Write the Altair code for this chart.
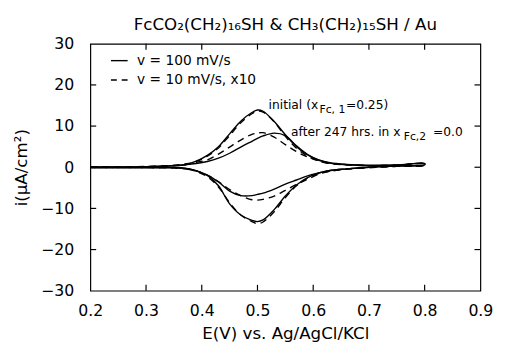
import altair as alt
import pandas as pd

# ---------------- data ----------------
E_GRID = [0.20, 0.25, 0.30, 0.35, 0.37, 0.39, 0.41, 0.43, 0.45, 0.47, 0.49, 0.50,
          0.51, 0.53, 0.55, 0.57, 0.59, 0.61, 0.63, 0.66, 0.70, 0.75, 0.80]

# anodic (forward) and cathodic (reverse) branches, values listed at ascending E
INIT_100_OX = [0.1, 0.1, 0.15, 0.35, 0.6, 1.5, 2.9, 5.0, 8.1, 11.2, 13.3, 13.9,
               13.6, 11.1, 7.9, 5.0, 3.0, 1.7, 1.0, 0.6, 0.4, 0.5, 0.9]
INIT_100_RED = [-0.1, -0.1, -0.1, -0.1, -0.2, -0.8, -2.0, -4.5, -8.9, -11.6, -12.9, -13.2,
                -12.8, -10.3, -7.0, -4.3, -2.5, -1.4, -0.8, -0.4, 0.0, 0.3, 0.6]
AFTER_100_OX = [0.1, 0.1, 0.15, 0.4, 0.6, 0.9, 1.4, 2.2, 3.4, 4.9, 6.3, 7.0,
                7.6, 8.3, 7.7, 5.2, 3.1, 1.8, 1.1, 0.7, 0.5, 0.55, 0.9]
AFTER_100_RED = [-0.1, -0.1, -0.1, -0.1, -0.3, -0.9, -1.9, -3.6, -5.8, -6.9, -6.9, -6.6,
                 -6.3, -5.3, -4.1, -3.1, -2.1, -1.4, -0.8, -0.4, 0.0, 0.3, 0.6]
INIT_10_OX = [0.1, 0.1, 0.15, 0.35, 0.6, 1.4, 2.7, 4.7, 7.7, 10.8, 13.0, 13.6,
              13.4, 11.0, 7.5, 4.6, 2.7, 1.5, 0.9, 0.6, 0.4, 0.5, 0.8]
INIT_10_RED = [-0.1, -0.1, -0.1, -0.1, -0.3, -1.0, -2.3, -4.8, -8.6, -11.6, -13.2, -13.7,
               -13.3, -10.8, -7.4, -4.5, -2.6, -1.5, -0.9, -0.4, -0.1, 0.2, 0.5]
AFTER_10_OX = [0.1, 0.1, 0.2, 0.5, 0.8, 1.2, 1.8, 3.2, 4.9, 6.6, 8.0, 8.3,
               8.4, 7.3, 5.5, 3.8, 2.5, 1.6, 0.9, 0.6, 0.4, 0.5, 0.8]
AFTER_10_RED = [-0.1, -0.1, -0.1, -0.2, -0.4, -0.9, -1.9, -3.5, -5.4, -6.9, -7.9, -8.0,
                -7.8, -7.0, -5.6, -4.2, -2.9, -1.7, -1.0, -0.5, -0.1, 0.2, 0.5]

RATE_LABELS = ["v = 100 mV/s", "v = 10 mV/s, x10"]
CURVE_NAMES = ["initial 100", "after 100", "initial 10", "after 10"]
CURVE_RATES = [RATE_LABELS[0], RATE_LABELS[0], RATE_LABELS[1], RATE_LABELS[1]]
CURVE_OX = [INIT_100_OX, AFTER_100_OX, INIT_10_OX, AFTER_10_OX]
CURVE_RED = [INIT_100_RED, AFTER_100_RED, INIT_10_RED, AFTER_10_RED]

X_DOMAIN = [0.2, 0.9]
Y_DOMAIN = [-30, 30]
X_TICKS = [0.3, 0.4, 0.5, 0.6, 0.7, 0.8]
Y_TICKS = [-20, -10, 0, 10, 20]
X_LABELS = [0.2, 0.3, 0.4, 0.5, 0.6, 0.7, 0.8, 0.9]
Y_LABELS = [-30, -20, -10, 0, 10, 20, 30]

# legend rows (anchored in data units, top-left inside the frame)
LEG_E_SAMPLE = [0.237, 0.267]
LEG_E_TEXT = 0.284
LEG_I = [25.9, 21.2]

ANNOT_TEXT = ["initial (x", "Fc, 1", "=0.25)", "after 247 hrs. in x", "Fc,2", "=0.0"]
ANNOT_E = [0.5199, 0.6113, 0.6587, 0.5603, 0.7624, 0.8151]
ANNOT_I = [14.2, 13.1, 14.2, 7.7, 6.7, 7.7]
ANNOT_SUB = [False, True, False, False, True, False]

TITLE = "FcCO\u2082(CH\u2082)\u2081\u2086SH & CH\u2083(CH\u2082)\u2081\u2085SH / Au"
FONT = "DejaVu Sans"

W, H = 398, 252
TL = 6
DASH = [7, 5]

# ---------------- tables ----------------
rows = []
for name, rate, ox, red in zip(CURVE_NAMES, CURVE_RATES, CURVE_OX, CURVE_RED):
    k = 0
    for e, i in zip(E_GRID, ox):
        rows.append({"curve": name, "rate": rate, "E": e, "I": i, "k": k})
        k += 1
    for e, i in zip(reversed(E_GRID), list(reversed(red))):
        rows.append({"curve": name, "rate": rate, "E": e, "I": i, "k": k})
        k += 1
df = pd.DataFrame(rows)
df_solid = df[df["rate"] == RATE_LABELS[0]].reset_index(drop=True)
df_dash = df[df["rate"] == RATE_LABELS[1]].reset_index(drop=True)

leg_rows = []
for lab, yv in zip(RATE_LABELS, LEG_I):
    for k, e in enumerate(LEG_E_SAMPLE):
        leg_rows.append({"rate": lab, "E": e, "I": yv, "k": k})
leg_lines = pd.DataFrame(leg_rows)
leg_text = pd.DataFrame({"text": RATE_LABELS, "E": [LEG_E_TEXT, LEG_E_TEXT], "I": LEG_I})

xt = pd.DataFrame({"E": X_TICKS})
yt = pd.DataFrame({"I": Y_TICKS})
ann = pd.DataFrame({"text": ANNOT_TEXT, "E": ANNOT_E, "I": ANNOT_I, "sub": ANNOT_SUB})

xscale = alt.Scale(domain=X_DOMAIN, nice=False, zero=False)
yscale = alt.Scale(domain=Y_DOMAIN, nice=False)

xaxis = alt.Axis(values=X_LABELS, format=".1f", ticks=False, domain=False,
                 grid=False, labelFlush=False,
                 labelFont=FONT, labelFontSize=16, labelPadding=12,
                 labelColor="black", title="E(V) vs. Ag/AgCl/KCl", titleFont=FONT,
                 titleFontSize=17, titleFontWeight="normal", titleColor="black",
                 titlePadding=8)
yaxis = alt.Axis(values=Y_LABELS, format="d", ticks=False, domain=False,
                 grid=False, labelFlush=False,
                 labelFont=FONT, labelFontSize=16, labelPadding=17,
                 labelColor="black", title="i(\u03bcA/cm\u00b2)", titleFont=FONT,
                 titleFontSize=17, titleFontWeight="normal", titleColor="black",
                 titlePadding=10)

solid = alt.Chart(df_solid).mark_line(color="black", strokeWidth=1.4,
                                      interpolate="catmull-rom").encode(
    x=alt.X("E:Q", scale=xscale, axis=xaxis),
    y=alt.Y("I:Q", scale=yscale, axis=yaxis),
    detail="curve:N", order="k:Q")
dashed = alt.Chart(df_dash).mark_line(color="black", strokeWidth=1.4, strokeDash=DASH,
                                      interpolate="catmull-rom").encode(
    x=alt.X("E:Q", scale=xscale), y=alt.Y("I:Q", scale=yscale),
    detail="curve:N", order="k:Q")

leg_solid = alt.Chart(leg_lines[leg_lines["rate"] == RATE_LABELS[0]]).mark_line(
    color="black", strokeWidth=1.4).encode(
    x=alt.X("E:Q", scale=xscale), y=alt.Y("I:Q", scale=yscale), order="k:Q")
leg_dash = alt.Chart(leg_lines[leg_lines["rate"] == RATE_LABELS[1]]).mark_line(
    color="black", strokeWidth=1.4, strokeDash=[6, 5]).encode(
    x=alt.X("E:Q", scale=xscale), y=alt.Y("I:Q", scale=yscale), order="k:Q")
leg_lab = alt.Chart(leg_text).mark_text(align="left", baseline="middle", font=FONT,
                                        fontSize=14, color="black").encode(
    x=alt.X("E:Q", scale=xscale), y=alt.Y("I:Q", scale=yscale), text="text:N")

tick_top = alt.Chart(xt).mark_rule(color="black", strokeWidth=1.2).encode(
    x=alt.X("E:Q", scale=xscale), y=alt.value(0), y2=alt.value(TL))
tick_bot = alt.Chart(xt).mark_rule(color="black", strokeWidth=1.2).encode(
    x=alt.X("E:Q", scale=xscale), y=alt.value(H), y2=alt.value(H - TL))
tick_left = alt.Chart(yt).mark_rule(color="black", strokeWidth=1.2).encode(
    y=alt.Y("I:Q", scale=yscale), x=alt.value(0), x2=alt.value(TL))
tick_right = alt.Chart(yt).mark_rule(color="black", strokeWidth=1.2).encode(
    y=alt.Y("I:Q", scale=yscale), x=alt.value(W), x2=alt.value(W - TL))

ann_main = alt.Chart(ann).transform_filter("!datum.sub").mark_text(
    align="left", baseline="alphabetic", font=FONT, fontSize=12.5, color="black").encode(
    x=alt.X("E:Q", scale=xscale), y=alt.Y("I:Q", scale=yscale), text="text:N")
ann_sub = alt.Chart(ann).transform_filter("datum.sub").mark_text(
    align="left", baseline="alphabetic", font=FONT, fontSize=11, color="black").encode(
    x=alt.X("E:Q", scale=xscale), y=alt.Y("I:Q", scale=yscale), text="text:N")

chart = alt.layer(solid, dashed, tick_top, tick_bot, tick_left, tick_right,
                  leg_solid, leg_dash, leg_lab, ann_main, ann_sub).properties(
    width=W, height=H,
    title=alt.TitleParams(TITLE, font=FONT, fontSize=17, fontWeight="normal",
                          color="black", anchor="middle", offset=2),
).configure_view(stroke="black", strokeWidth=1.2)

chart.save("out.html", embed_options={"renderer": "svg", "actions": False})
